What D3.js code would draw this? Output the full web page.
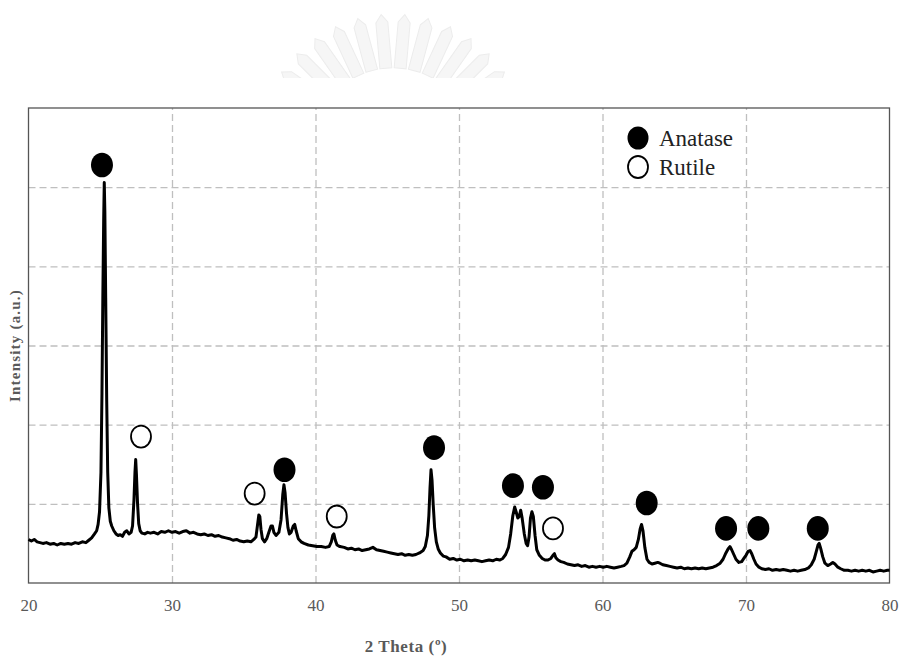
<!DOCTYPE html>
<html>
<head>
<meta charset="utf-8">
<script src="https://cdn.jsdelivr.net/npm/d3@7"></script>
<style>
  body { margin: 0; background: #fff; }
  svg { display: block; }
</style>
</head>
<body>
<svg width="899" height="656"></svg>
<script>
// XRD pattern (2 theta in degrees, intensity in grid units)
const twoTheta = [
  20.0, 20.2, 20.4, 20.6, 20.8, 21.0, 21.25, 21.5, 21.75, 22.0, 22.25, 22.5, 22.75, 23.0, 23.25, 23.5, 23.75, 24.0,
  24.2, 24.4, 24.6, 24.75, 24.85, 24.95, 25.05, 25.12, 25.18, 25.24, 25.28, 25.32, 25.38, 25.45, 25.52, 25.6, 25.7,
  25.8, 25.95, 26.1, 26.25, 26.4, 26.55, 26.7, 26.85, 27.0, 27.15, 27.25, 27.35, 27.42, 27.47, 27.52, 27.6, 27.68,
  27.78, 27.9, 28.1, 28.3, 28.5, 28.75, 29.0, 29.25, 29.5, 29.75, 30.0, 30.25, 30.5, 30.75, 31.0, 31.25, 31.5, 31.75,
  32.0, 32.25, 32.5, 32.75, 33.0, 33.25, 33.5, 33.75, 34.0, 34.25, 34.5, 34.75, 35.0, 35.25, 35.5, 35.7, 35.85, 35.95,
  36.05, 36.12, 36.2, 36.3, 36.45, 36.6, 36.75, 36.9, 37.0, 37.1, 37.25, 37.45, 37.6, 37.72, 37.8, 37.88, 37.98, 38.08,
  38.18, 38.3, 38.45, 38.55, 38.65, 38.8, 39.0, 39.2, 39.5, 39.8, 40.1, 40.4, 40.7, 40.95, 41.1, 41.2, 41.28, 41.38,
  41.5, 41.7, 42.0, 42.25, 42.5, 42.75, 43.0, 43.25, 43.5, 43.75, 44.0, 44.25, 44.5, 44.75, 45.0, 45.25, 45.5, 45.75,
  46.0, 46.25, 46.5, 46.75, 47.0, 47.25, 47.5, 47.65, 47.8, 47.9, 47.98, 48.05, 48.12, 48.2, 48.3, 48.42, 48.55, 48.7,
  48.9, 49.1, 49.35, 49.6, 49.85, 50.1, 50.35, 50.6, 50.85, 51.1, 51.35, 51.6, 51.85, 52.1, 52.35, 52.6, 52.85, 53.05,
  53.25, 53.45, 53.6, 53.75, 53.88, 53.98, 54.1, 54.2, 54.3, 54.4, 54.55, 54.68, 54.78, 54.88, 54.98, 55.08, 55.18,
  55.3, 55.42, 55.6, 55.8, 56.0, 56.2, 56.4, 56.55, 56.65, 56.75, 56.9, 57.1, 57.3, 57.55, 57.8, 58.05, 58.3, 58.55,
  58.8, 59.05, 59.3, 59.55, 59.8, 60.05, 60.3, 60.55, 60.8, 61.05, 61.3, 61.5, 61.7, 61.9, 62.05, 62.2, 62.35, 62.5,
  62.62, 62.72, 62.82, 62.95, 63.1, 63.25, 63.45, 63.65, 63.85, 64.0, 64.2, 64.45, 64.7, 64.95, 65.2, 65.45, 65.7,
  65.95, 66.2, 66.45, 66.7, 66.95, 67.2, 67.45, 67.7, 67.95, 68.2, 68.4, 68.6, 68.75, 68.88, 69.0, 69.15, 69.3, 69.5,
  69.7, 69.85, 70.0, 70.15, 70.28, 70.4, 70.55, 70.7, 70.9, 71.1, 71.35, 71.6, 71.85, 72.1, 72.35, 72.6, 72.85, 73.1,
  73.35, 73.6, 73.85, 74.1, 74.35, 74.55, 74.75, 74.9, 75.02, 75.1, 75.2, 75.35, 75.5, 75.7, 75.9, 76.05, 76.2, 76.4,
  76.6, 76.85, 77.1, 77.35, 77.6, 77.85, 78.1, 78.35, 78.6, 78.85, 79.1, 79.35, 79.6, 79.85, 80.0
];
const intensity = [
  0.55, 0.53, 0.55, 0.52, 0.51, 0.50, 0.51, 0.49, 0.50, 0.48, 0.50, 0.49, 0.50, 0.49, 0.51, 0.50, 0.52, 0.51,
  0.54, 0.57, 0.62, 0.66, 0.74, 0.90, 1.40, 2.40, 3.60, 4.60, 5.06, 4.70, 3.60, 2.30, 1.40, 0.95, 0.78,
  0.72, 0.66, 0.62, 0.60, 0.61, 0.59, 0.64, 0.66, 0.62, 0.64, 0.72, 1.05, 1.40, 1.56, 1.38, 1.00, 0.75,
  0.66, 0.63, 0.62, 0.64, 0.63, 0.64, 0.62, 0.65, 0.64, 0.66, 0.64, 0.65, 0.63, 0.65, 0.66, 0.63, 0.64, 0.62,
  0.61, 0.62, 0.60, 0.61, 0.59, 0.60, 0.58, 0.57, 0.56, 0.54, 0.55, 0.53, 0.52, 0.53, 0.52, 0.55, 0.58, 0.72,
  0.86, 0.84, 0.68, 0.56, 0.52, 0.56, 0.64, 0.72, 0.72, 0.64, 0.60, 0.64, 0.80, 1.12, 1.24, 1.14, 0.88, 0.70,
  0.62, 0.64, 0.72, 0.74, 0.66, 0.56, 0.52, 0.50, 0.48, 0.47, 0.46, 0.46, 0.45, 0.46, 0.52, 0.60, 0.62, 0.54,
  0.48, 0.46, 0.45, 0.43, 0.44, 0.42, 0.43, 0.41, 0.42, 0.43, 0.45, 0.42, 0.41, 0.40, 0.39, 0.38, 0.37, 0.36,
  0.37, 0.35, 0.36, 0.35, 0.36, 0.38, 0.41, 0.46, 0.60, 0.85, 1.20, 1.43, 1.30, 1.00, 0.70, 0.52, 0.43, 0.38,
  0.34, 0.33, 0.30, 0.31, 0.29, 0.30, 0.28, 0.29, 0.28, 0.29, 0.28, 0.27, 0.28, 0.29, 0.28, 0.30, 0.29, 0.31,
  0.36, 0.45, 0.62, 0.85, 0.96, 0.90, 0.82, 0.84, 0.92, 0.82, 0.62, 0.50, 0.47, 0.58, 0.82, 0.90, 0.84,
  0.60, 0.42, 0.35, 0.31, 0.29, 0.29, 0.31, 0.35, 0.37, 0.32, 0.29, 0.27, 0.26, 0.24, 0.23, 0.22, 0.23, 0.21,
  0.22, 0.20, 0.21, 0.20, 0.21, 0.20, 0.21, 0.20, 0.19, 0.20, 0.21, 0.22, 0.25, 0.33, 0.40, 0.42, 0.45, 0.55,
  0.68, 0.74, 0.66, 0.45, 0.30, 0.26, 0.24, 0.25, 0.26, 0.25, 0.23, 0.22, 0.21, 0.20, 0.19, 0.20, 0.18,
  0.19, 0.18, 0.19, 0.18, 0.19, 0.18, 0.19, 0.20, 0.22, 0.25, 0.30, 0.38, 0.43, 0.46, 0.42, 0.36, 0.30, 0.26,
  0.27, 0.31, 0.35, 0.40, 0.41, 0.37, 0.30, 0.24, 0.20, 0.18, 0.17, 0.18, 0.16, 0.17, 0.16, 0.17, 0.16, 0.15,
  0.16, 0.15, 0.16, 0.17, 0.19, 0.23, 0.30, 0.40, 0.48, 0.50, 0.44, 0.33, 0.25, 0.22, 0.24, 0.26, 0.24, 0.20,
  0.18, 0.16, 0.16, 0.15, 0.16, 0.15, 0.16, 0.15, 0.16, 0.14, 0.15, 0.16, 0.15, 0.16, 0.16
];

// phase markers: [2 theta, height]
const anatasePeaks = [[25.12, 5.28], [37.84, 1.43], [48.26, 1.71], [53.76, 1.23], [55.85, 1.21],
                      [63.08, 1.01], [68.61, 0.69], [70.86, 0.69], [75.0, 0.69]];
const rutilePeaks = [[27.84, 1.85], [35.76, 1.13], [41.48, 0.84], [56.55, 0.69]];

const xTicks = [20, 30, 40, 50, 60, 70, 80];
const yGrid = [1, 2, 3, 4, 5];
const legendItems = ["Anatase", "Rutile"];

const svg = d3.select("svg");
const plotLeft = 28.5, plotRight = 889.5, plotTop = 108, plotBottom = 583;

const x = d3.scaleLinear().domain([20, 80]).range([plotLeft, plotRight]);
const y = d3.scaleLinear().domain([0, 6]).range([plotBottom, plotTop]);

// faint watermark logo at the top (fan of rays)
const wm = svg.append("g");
wm.append("clipPath").attr("id", "wmclip")
  .append("rect").attr("x", 200).attr("y", 0).attr("width", 400).attr("height", 78);
const fan = wm.append("g").attr("clip-path", "url(#wmclip)");
d3.range(-65, 70, 10).forEach(a => {
  fan.append("path")
    .attr("d", "M-6,-82 L6,-82 L6,-128 L0,-136 L-6,-128 Z")
    .attr("transform", `translate(393,150) rotate(${a})`)
    .attr("fill", "#f6f6f6")
    .attr("stroke", "#ececec")
    .attr("stroke-width", 1);
});

// gridlines
svg.append("g")
  .attr("transform", `translate(0,${plotBottom})`)
  .call(d3.axisBottom(x).tickValues(xTicks.slice(1, -1)).tickSize(-(plotBottom - plotTop)).tickFormat(""))
  .call(g => g.select(".domain").remove())
  .call(g => g.selectAll("line").attr("stroke", "#bfbfbf").attr("stroke-width", 1.3).attr("stroke-dasharray", "7,4"));

svg.append("g")
  .attr("transform", `translate(${plotLeft},0)`)
  .call(d3.axisLeft(y).tickValues(yGrid).tickSize(-(plotRight - plotLeft)).tickFormat(""))
  .call(g => g.select(".domain").remove())
  .call(g => g.selectAll("line").attr("stroke", "#bfbfbf").attr("stroke-width", 1.3).attr("stroke-dasharray", "7,4"));

// plot frame
svg.append("rect")
  .attr("x", plotLeft).attr("y", plotTop)
  .attr("width", plotRight - plotLeft).attr("height", plotBottom - plotTop)
  .attr("fill", "none").attr("stroke", "#555").attr("stroke-width", 1.3);

// x tick labels
svg.append("g")
  .attr("transform", `translate(0,${plotBottom})`)
  .call(d3.axisBottom(x).tickValues(xTicks).tickSize(0).tickPadding(16))
  .call(g => g.select(".domain").remove())
  .call(g => g.selectAll("text")
    .attr("font-family", "'Liberation Serif', serif")
    .attr("font-size", 17)
    .attr("fill", "#595959"));

// pattern line
const pts = twoTheta.map((t, i) => [t, intensity[i]]);
svg.append("path")
  .datum(pts)
  .attr("fill", "none")
  .attr("stroke", "#000")
  .attr("stroke-width", 3)
  .attr("stroke-linejoin", "round")
  .attr("d", d3.line().x(d => x(d[0])).y(d => y(d[1])));

// phase markers
svg.append("g").selectAll("ellipse")
  .data(anatasePeaks).join("ellipse")
  .attr("cx", d => x(d[0])).attr("cy", d => y(d[1]))
  .attr("rx", 11).attr("ry", 12.3)
  .attr("fill", "#000");

svg.append("g").selectAll("ellipse")
  .data(rutilePeaks).join("ellipse")
  .attr("cx", d => x(d[0])).attr("cy", d => y(d[1]))
  .attr("rx", 10).attr("ry", 11)
  .attr("fill", "#fff").attr("stroke", "#000").attr("stroke-width", 1.8);

// legend
const legend = svg.append("g").attr("transform", "translate(638,138)");
legendItems.forEach((name, i) => {
  const row = legend.append("g").attr("transform", `translate(0,${i * 29})`);
  row.append("ellipse")
    .attr("rx", i === 0 ? 10.5 : 10).attr("ry", i === 0 ? 11.5 : 11)
    .attr("fill", i === 0 ? "#000" : "#fff")
    .attr("stroke", "#000").attr("stroke-width", i === 0 ? 0 : 1.8);
  row.append("text")
    .attr("x", 21).attr("y", 8)
    .attr("font-family", "'Liberation Serif', serif")
    .attr("font-size", 23)
    .attr("fill", "#222")
    .text(name);
});

// axis titles
svg.append("text")
  .attr("x", 406).attr("y", 652)
  .attr("text-anchor", "middle")
  .attr("font-family", "'Liberation Serif', serif")
  .attr("font-weight", "bold")
  .attr("font-size", 17)
  .attr("fill", "#595959")
  .attr("letter-spacing", 0.6)
  .text("2 Theta (º)");

svg.append("text")
  .attr("transform", `translate(20,${(plotTop + plotBottom) / 2}) rotate(-90)`)
  .attr("text-anchor", "middle")
  .attr("font-family", "'Liberation Serif', serif")
  .attr("font-weight", "bold")
  .attr("font-size", 15)
  .attr("fill", "#595959")
  .attr("letter-spacing", 1.2)
  .text("Intensity (a.u.)");
</script>
</body>
</html>
